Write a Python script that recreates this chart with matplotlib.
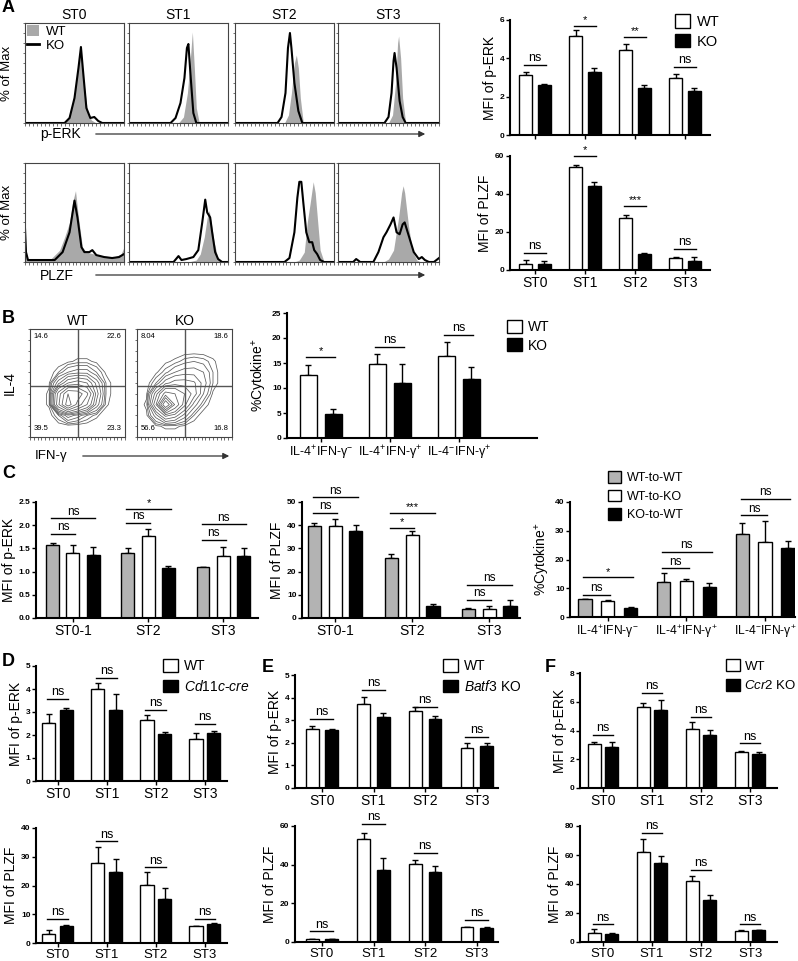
import matplotlib
matplotlib.use('Agg')
import matplotlib.pyplot as plt
import numpy as np
from matplotlib.patches import Patch, FancyArrowPatch
from matplotlib.lines import Line2D

plt.rcParams['font.family'] = ['Liberation Sans', 'DejaVu Sans']
plt.rcParams['mathtext.fontset'] = 'custom'
plt.rcParams['mathtext.rm'] = 'Liberation Sans'
plt.rcParams['mathtext.it'] = 'Liberation Sans:italic'
plt.rcParams['mathtext.bf'] = 'Liberation Sans:bold'

# ---------------- data ----------------
stages = ['ST0', 'ST1', 'ST2', 'ST3']
stages_c = ['ST0-1', 'ST2', 'ST3']
cyto_labels = ['IL-4$^{+}$IFN-γ$^{-}$', 'IL-4$^{+}$IFN-γ$^{+}$', 'IL-4$^{-}$IFN-γ$^{+}$']

# A: flow histograms, (x, y) vertices on a 0-1 scale
erk_wt = [([0, 0.38, 0.44, 0.49, 0.53, 0.56, 0.59, 0.63, 0.67, 0.72, 1],
           [0, 0, 0.04, 0.22, 0.5, 0.74, 0.45, 0.12, 0.03, 0, 0]),
          ([0, 0.5, 0.55, 0.59, 0.62, 0.64, 0.66, 0.68, 0.71, 1],
           [0, 0, 0.06, 0.3, 0.65, 0.91, 0.55, 0.15, 0, 0]),
          ([0, 0.5, 0.54, 0.57, 0.6, 0.62, 0.64, 0.66, 0.69, 1],
           [0, 0, 0.08, 0.3, 0.6, 0.68, 0.55, 0.25, 0, 0]),
          ([0, 0.5, 0.54, 0.57, 0.59, 0.6, 0.62, 0.64, 0.67, 1],
           [0, 0, 0.08, 0.4, 0.8, 0.87, 0.65, 0.25, 0, 0])]
erk_ko = [([0, 0.40, 0.45, 0.50, 0.54, 0.565, 0.59, 0.62, 0.66, 0.70, 0.74, 0.78, 1],
           [0, 0, 0.05, 0.25, 0.55, 0.76, 0.48, 0.15, 0.05, 0.06, 0.02, 0, 0]),
          ([0, 0.42, 0.47, 0.52, 0.56, 0.585, 0.60, 0.62, 0.65, 0.68, 1],
           [0, 0, 0.05, 0.2, 0.45, 0.75, 0.79, 0.5, 0.1, 0, 0]),
          ([0, 0.43, 0.47, 0.51, 0.535, 0.555, 0.57, 0.6, 0.64, 0.68, 1],
           [0, 0, 0.06, 0.3, 0.75, 0.9, 0.75, 0.4, 0.12, 0, 0]),
          ([0, 0.46, 0.5, 0.53, 0.55, 0.56, 0.58, 0.61, 0.64, 0.67, 1],
           [0, 0, 0.06, 0.3, 0.62, 0.70, 0.55, 0.22, 0.06, 0, 0])]
plzf_wt = [([0, 0.01, 0.03, 0.25, 0.3, 0.35, 0.4, 0.45, 0.48, 0.51, 0.54, 0.58, 0.62, 0.7, 0.8, 0.9, 0.97, 1],
            [0.25, 0.1, 0.02, 0.02, 0.07, 0.12, 0.25, 0.4, 0.6, 0.72, 0.45, 0.15, 0.1, 0.08, 0.06, 0.05, 0.08, 0.15]),
           ([0, 0.6, 0.68, 0.72, 0.76, 0.79, 0.81, 0.83, 0.86, 0.9, 0.95, 1],
            [0, 0, 0.02, 0.08, 0.25, 0.45, 0.52, 0.4, 0.2, 0.03, 0, 0]),
           ([0, 0.6, 0.65, 0.7, 0.73, 0.76, 0.79, 0.81, 0.84, 0.86, 0.9, 1],
            [0, 0, 0.02, 0.1, 0.4, 0.6, 0.81, 0.7, 0.35, 0.12, 0, 0]),
           ([0, 0.45, 0.5, 0.55, 0.6, 0.63, 0.645, 0.66, 0.7, 0.74, 0.78, 0.82, 1],
            [0, 0, 0.03, 0.12, 0.45, 0.7, 0.77, 0.7, 0.35, 0.1, 0.02, 0, 0])]
plzf_ko = [([0, 0.01, 0.03, 0.3, 0.38, 0.45, 0.5, 0.53, 0.57, 0.6, 0.65, 0.68, 0.72, 0.8, 0.88, 0.95, 1],
            [0.34, 0.1, 0.02, 0.02, 0.1, 0.3, 0.62, 0.45, 0.15, 0.1, 0.1, 0.12, 0.07, 0.05, 0.04, 0.05, 0.08]),
           ([0, 0.45, 0.5, 0.53, 0.58, 0.65, 0.7, 0.74, 0.77, 0.79, 0.82, 0.84, 0.87, 0.9, 0.94, 1],
            [0, 0, 0.06, 0.02, 0.03, 0.05, 0.12, 0.4, 0.63, 0.5, 0.45, 0.3, 0.1, 0.03, 0, 0]),
           ([0, 0.5, 0.55, 0.6, 0.63, 0.65, 0.67, 0.69, 0.72, 0.75, 0.78, 0.8, 0.83, 0.86, 0.9, 1],
            [0, 0, 0.04, 0.3, 0.65, 0.81, 0.81, 0.6, 0.3, 0.2, 0.2, 0.12, 0.08, 0.02, 0, 0]),
           ([0, 0.15, 0.18, 0.22, 0.35, 0.4, 0.45, 0.48, 0.52, 0.55, 0.58, 0.61, 0.64, 0.66, 0.69, 0.72, 0.75, 0.8, 0.83, 0.86, 0.9, 0.95, 1],
            [0, 0, 0.03, 0, 0, 0.1, 0.25, 0.3, 0.38, 0.45, 0.3, 0.28, 0.38, 0.4, 0.3, 0.2, 0.1, 0.03, 0.05, 0.02, 0, 0, 0.04])]

# A: bar charts
a_erk_wt, a_erk_wt_err = [3.15, 5.15, 4.45, 3.0], [0.15, 0.35, 0.3, 0.2]
a_erk_ko, a_erk_ko_err = [2.6, 3.3, 2.45, 2.3], [0.05, 0.2, 0.15, 0.15]
a_erk_sig_y, a_erk_sig = [3.65, 5.7, 5.1, 3.55], ['ns', '*', '**', 'ns']
a_plzf_wt, a_plzf_wt_err = [3.0, 54.0, 27.5, 6.5], [2.5, 1.5, 1.5, 0.5]
a_plzf_ko, a_plzf_ko_err = [3.0, 44.0, 8.5, 5.0], [2.0, 2.5, 0.3, 2.0]
a_plzf_sig_y, a_plzf_sig = [9, 60, 33.7, 11], ['ns', '*', '***', 'ns']

# B: contour density grids (rows = IL-4, cols = IFN-g, 0-1 scale)
b_wt_density = [
    [0, 0, 0, 0, 0, 0, 0, 0, 0, 0, 0],
    [0, 0, 0, 0, 0, 0, 0, 0, 0, 0, 0],
    [0, 0, 0, 0.05, 0.15, 0.1, 0.05, 0.02, 0, 0, 0],
    [0, 0, 0.02, 0.5, 0.9, 0.6, 0.4, 0.15, 0.02, 0, 0],
    [0, 0, 0.02, 0.45, 0.8, 0.75, 0.55, 0.2, 0.03, 0, 0],
    [0, 0, 0.01, 0.15, 0.3, 0.35, 0.3, 0.15, 0.03, 0, 0],
    [0, 0, 0, 0.03, 0.08, 0.1, 0.1, 0.05, 0.01, 0, 0],
    [0, 0, 0, 0, 0.01, 0.02, 0.02, 0.01, 0, 0, 0],
    [0, 0, 0, 0, 0, 0, 0, 0, 0, 0, 0],
    [0, 0, 0, 0, 0, 0, 0, 0, 0, 0, 0],
    [0, 0, 0, 0, 0, 0, 0, 0, 0, 0, 0]]
b_ko_density = [
    [0, 0, 0, 0, 0, 0, 0, 0, 0, 0, 0],
    [0, 0, 0.01, 0.02, 0.02, 0.01, 0, 0, 0, 0, 0],
    [0, 0.01, 0.1, 0.25, 0.2, 0.1, 0.03, 0, 0, 0, 0],
    [0, 0.02, 0.3, 1.0, 0.5, 0.25, 0.1, 0.03, 0, 0, 0],
    [0, 0.01, 0.2, 0.45, 0.4, 0.3, 0.2, 0.08, 0.01, 0, 0],
    [0, 0, 0.05, 0.15, 0.2, 0.2, 0.18, 0.1, 0.03, 0, 0],
    [0, 0, 0.01, 0.04, 0.08, 0.1, 0.1, 0.08, 0.03, 0, 0],
    [0, 0, 0, 0.01, 0.02, 0.04, 0.05, 0.04, 0.02, 0, 0],
    [0, 0, 0, 0, 0, 0, 0, 0, 0, 0, 0],
    [0, 0, 0, 0, 0, 0, 0, 0, 0, 0, 0],
    [0, 0, 0, 0, 0, 0, 0, 0, 0, 0, 0]]
b_wt_quad = ['14.6', '22.6', '39.5', '23.3']
b_ko_quad = ['8.04', '18.6', '56.6', '16.8']
b_wt, b_wt_err = [12.7, 14.8, 16.4], [1.9, 2.0, 2.8]
b_ko, b_ko_err = [4.8, 11.1, 11.9], [1.1, 3.7, 2.3]
b_sig_y, b_sig = [16.3, 18.3, 20.6], ['*', 'ns', 'ns']

# C: three chimera groups (WT-to-WT, WT-to-KO, KO-to-WT)
c_erk = [[1.57, 1.41, 1.09], [1.40, 1.76, 1.33], [1.36, 1.07, 1.33]]
c_erk_err = [[0.05, 0.10, 0.01], [0.18, 0.16, 0.21], [0.16, 0.05, 0.18]]
c_erk_sig = [(0, 1, 1.82, 'ns'), (0, 2, 2.15, 'ns'), (1, 1, 2.05, 'ns'), (1, 2, 2.35, '*'),
             (2, 1, 1.69, 'ns'), (2, 2, 2.02, 'ns')]
c_plzf = [[39.7, 26.0, 3.9], [39.5, 35.6, 3.9], [37.6, 5.3, 5.3]]
c_plzf_err = [[1.3, 1.4, 0.4], [3.2, 2.1, 1.1], [2.4, 0.7, 2.5]]
c_plzf_sig = [(0, 1, 45.4, 'ns'), (0, 2, 52.0, 'ns'), (1, 1, 39.0, '*'), (1, 2, 45.4, '***'),
              (2, 1, 7.9, 'ns'), (2, 2, 14.3, 'ns')]
c_cyto = [[6.2, 12.3, 28.8], [5.7, 12.4, 26.2], [3.3, 10.5, 24.1]]
c_cyto_err = [[0.2, 2.9, 3.8], [0.3, 0.9, 7.3], [0.3, 1.2, 2.3]]
c_cyto_sig = [(0, 1, 7.7, 'ns'), (0, 2, 13.8, '*'), (1, 1, 16.9, 'ns'), (1, 2, 22.6, 'ns'),
              (2, 1, 35.4, 'ns'), (2, 2, 41.1, 'ns')]

# D: Cd11c-cre
d_erk_wt, d_erk_wt_err = [2.53, 3.99, 2.67, 1.84], [0.40, 0.28, 0.22, 0.26]
d_erk_ko, d_erk_ko_err = [3.07, 3.10, 2.03, 2.10], [0.10, 0.67, 0.10, 0.07]
d_erk_sig_y = [3.56, 4.5, 3.1, 2.5]
d_plzf_wt, d_plzf_wt_err = [3.2, 27.7, 20.2, 5.8], [1.2, 5.7, 4.6, 0.1]
d_plzf_ko, d_plzf_ko_err = [5.8, 24.8, 15.2, 6.7], [0.4, 4.5, 4.0, 0.1]
d_plzf_sig_y = [8.3, 35.4, 26.3, 8.3]

# E: Batf3 KO
e_erk_wt, e_erk_wt_err = [2.6, 3.71, 3.42, 1.78], [0.15, 0.33, 0.15, 0.2]
e_erk_ko, e_erk_ko_err = [2.56, 3.15, 3.05, 1.86], [0.07, 0.18, 0.12, 0.12]
e_erk_sig_y = [3.07, 4.33, 3.6, 2.27]
e_plzf_wt, e_plzf_wt_err = [1.4, 53.1, 40.5, 7.8], [0.2, 3.4, 2.1, 0.2]
e_plzf_ko, e_plzf_ko_err = [1.3, 37.1, 36.2, 7.5], [0.2, 6.3, 3.1, 0.2]
e_plzf_sig_y = [5.5, 61.0, 46.0, 11.5]

# F: Ccr2 KO
f_erk_wt, f_erk_wt_err = [3.06, 5.64, 4.07, 2.53], [0.16, 0.24, 0.49, 0.02]
f_erk_ko, f_erk_ko_err = [2.87, 5.46, 3.68, 2.37], [0.30, 0.69, 0.35, 0.16]
f_erk_sig_y = [3.68, 6.6, 4.95, 3.1]
f_plzf_wt, f_plzf_wt_err = [6.2, 62.0, 41.8, 7.6], [2.5, 8.8, 3.7, 0.9]
f_plzf_ko, f_plzf_ko_err = [5.3, 54.7, 28.7, 8.0], [1.1, 4.3, 3.9, 0.5]
f_plzf_sig_y = [12.2, 75.2, 49.9, 12.2]

# ---------------- layout helpers ----------------
W, H = 798, 961
fig = plt.figure(figsize=(W / 100, H / 100), dpi=100)
GRAY = '#b3b3b3'


def pax(x0, y0, x1, y1):
    return fig.add_axes([x0 / W, 1 - y1 / H, (x1 - x0) / W, (y1 - y0) / H])


def ftext(x, y, s, **kw):
    fig.text(x / W, 1 - y / H, s, **kw)


def farrow(x0, x1, y):
    fig.add_artist(FancyArrowPatch((x0 / W, 1 - y / H), (x1 / W, 1 - y / H),
                                   transform=fig.transFigure, arrowstyle='-|>',
                                   mutation_scale=9, lw=0.9, color='#333333'))


def box_legend(x, y, labels, colors, fs=10, spacing=0.45, textpad=0.45):
    handles = [Patch(facecolor=c, edgecolor='black', linewidth=1) for c in colors]
    fig.legend(handles, labels, loc='upper left', bbox_to_anchor=(x / W, 1 - y / H),
               frameon=False, fontsize=fs, handlelength=1.05, handleheight=1.05,
               handletextpad=textpad, labelspacing=spacing, borderaxespad=0, borderpad=0)


def style_bar(ax, xlim, ylim, yticks, xlabels=None, ylabel='', yfmt=None, xfs=10):
    for s in ['top', 'right']:
        ax.spines[s].set_visible(False)
    for s in ['left', 'bottom']:
        ax.spines[s].set_linewidth(1.5)
    ax.set_xlim(*xlim)
    ax.set_ylim(*ylim)
    ax.set_yticks(yticks)
    if yfmt:
        ax.set_yticklabels([yfmt.format(t) for t in yticks])
    ax.tick_params(axis='y', labelsize=6, length=3, width=1, pad=1)
    for t in ax.get_yticklabels():
        t.set_fontweight('bold')
    n = len(xlabels) if xlabels else 4
    ax.set_xticks(np.arange(n))
    if xlabels:
        ax.set_xticklabels(xlabels)
    else:
        ax.set_xticklabels([])
    ax.tick_params(axis='x', labelsize=xfs, length=3, width=1, pad=1.5)
    ax.set_ylabel(ylabel, fontsize=10, labelpad=2)


def draw_bars(ax, series, errs, colors, offsets, width):
    for vals, err, col, off in zip(series, errs, colors, offsets):
        x = np.arange(len(vals)) + off
        ax.bar(x, vals, width, color=col, edgecolor='black', linewidth=1, zorder=2)
        ax.errorbar(x, vals, yerr=[np.zeros(len(vals)), err], fmt='none', ecolor='black',
                    elinewidth=1, capsize=2.5, capthick=1, zorder=1)


def sig(ax, x0, x1, y, txt, fs_ns=9):
    ax.plot([x0, x1], [y, y], color='black', lw=1, clip_on=False, zorder=3)
    fs = fs_ns if txt == 'ns' else 8
    ax.annotate(txt, xy=((x0 + x1) / 2, y), xytext=(0, 0.5), textcoords='offset points',
                ha='center', va='bottom', fontsize=fs, annotation_clip=False)


def two_bar_panel(box, wt, wt_err, ko, ko_err, sig_y, sig_txt, xlim, ylim, yticks, ylabel,
                  off=0.185, width=0.26, labels=stages, xfs=10):
    ax = pax(*box)
    draw_bars(ax, [wt, ko], [wt_err, ko_err], ['white', 'black'], [-off, off], width)
    style_bar(ax, xlim, ylim, yticks, labels, ylabel, xfs=xfs)
    for g, (y, t) in enumerate(zip(sig_y, sig_txt)):
        sig(ax, g - off - 0.03, g + off + 0.03, y, t)
    return ax


def three_bar_panel(box, series, errs, sigs, xlim, ylim, yticks, ylabel, labels, off,
                    yfmt=None, xfs=10):
    ax = pax(*box)
    offsets = [-off, 0, off]
    draw_bars(ax, series, errs, [GRAY, 'white', 'black'], offsets, 0.17)
    style_bar(ax, xlim, ylim, yticks, labels, ylabel, yfmt, xfs=xfs)
    for g, partner, y, t in sigs:
        sig(ax, g - off - 0.02, g + offsets[partner] + 0.03, y, t, fs_ns=8.5)
    return ax


# ---------------- panel A: histograms ----------------
cols = [(25, 124), (129, 228), (235, 334), (338, 439)]
rows = [(23, 123), (163, 262)]
for r, (wt_list, ko_list) in enumerate([(erk_wt, erk_ko), (plzf_wt, plzf_ko)]):
    for c, (x0, x1) in enumerate(cols):
        ax = pax(x0, rows[r][0], x1, rows[r][1])
        wx, wy = wt_list[c]
        kx, ky = ko_list[c]
        ax.fill_between(wx, wy, color='#a9a9a9', lw=0)
        ax.plot(kx, ky, color='black', lw=1.5)
        ax.set_xlim(0, 1)
        ax.set_ylim(0, 1)
        ax.set_xticks(np.arange(0, 1.01, 0.04))
        ax.set_yticks(np.arange(0, 1.01, 0.1))
        ax.set_xticklabels([])
        ax.set_yticklabels([])
        ax.tick_params(length=1.8, width=0.6, color='#555555')
        for s in ax.spines.values():
            s.set_linewidth(0.8)
            s.set_color('#444444')
        if r == 0:
            ax.set_title(stages[c], fontsize=10, pad=3)
        if c == 0:
            ax.set_ylabel('% of Max', fontsize=9.5, labelpad=3)
        if r == 0 and c == 0:
            ax.legend([Patch(facecolor='#a9a9a9'), Line2D([], [], color='black', lw=2)],
                      ['WT', 'KO'], loc='upper left', frameon=False, fontsize=9.5,
                      handlelength=0.9, handleheight=0.9, borderaxespad=0.05,
                      borderpad=0.1, labelspacing=0.05, handletextpad=0.5)

ftext(40, 134, 'p-ERK', fontsize=10, va='center')
farrow(93, 428, 134)
ftext(40, 276, 'PLZF', fontsize=10, va='center')
farrow(93, 428, 275)

# A: bars
two_bar_panel((510, 20, 710, 135), a_erk_wt, a_erk_wt_err, a_erk_ko, a_erk_ko_err,
              a_erk_sig_y, a_erk_sig, (-0.5, 3.5), (0, 6), [0, 2, 4, 6], 'MFI of p-ERK',
              labels=None)
two_bar_panel((510, 156, 710, 270), a_plzf_wt, a_plzf_wt_err, a_plzf_ko, a_plzf_ko_err,
              a_plzf_sig_y, a_plzf_sig, (-0.5, 3.5), (0, 60), [0, 20, 40, 60], 'MFI of PLZF')
box_legend(675, 14, ['WT', 'KO'], ['white', 'black'], fs=10.5, spacing=0.35)

# ---------------- panel B ----------------
grid = np.linspace(0, 1, 11)
levels = [0.015, 0.03, 0.05, 0.08, 0.12, 0.17, 0.23, 0.3, 0.4, 0.52, 0.65, 0.8]
for box, dens, quad, title in [((30, 329, 125, 437), b_wt_density, b_wt_quad, 'WT'),
                               ((137, 329, 232, 437), b_ko_density, b_ko_quad, 'KO')]:
    ax = pax(*box)
    ax.contour(grid, grid, np.array(dens), levels=levels, colors='#5a5a5a', linewidths=0.55)
    ax.axvline(0.5, color='#555555', lw=1)
    ax.axhline(0.475, color='#555555', lw=1)
    ax.set_xlim(0, 1)
    ax.set_ylim(0, 1)
    ax.set_xticks(np.arange(0, 1.01, 0.04))
    ax.set_yticks(np.arange(0, 1.01, 0.1))
    ax.set_xticklabels([])
    ax.set_yticklabels([])
    ax.tick_params(length=1.8, width=0.6, color='#555555')
    for s in ax.spines.values():
        s.set_linewidth(0.8)
        s.set_color('#444444')
    ax.set_title(title, fontsize=10, pad=3)
    ax.text(0.04, 0.93, quad[0], fontsize=5.5, transform=ax.transAxes, va='center')
    ax.text(0.96, 0.93, quad[1], fontsize=5.5, transform=ax.transAxes, va='center', ha='right')
    ax.text(0.04, 0.08, quad[2], fontsize=5.5, transform=ax.transAxes, va='center')
    ax.text(0.96, 0.08, quad[3], fontsize=5.5, transform=ax.transAxes, va='center', ha='right')
    if title == 'WT':
        ax.set_ylabel('IL-4', fontsize=10, labelpad=4)

ftext(35, 456, 'IFN-γ', fontsize=9.5, va='center')
farrow(80, 232, 456)

two_bar_panel((287, 313, 537, 438), b_wt, b_wt_err, b_ko, b_ko_err, b_sig_y, b_sig,
              (-0.49, 3.13), (0, 25), [0, 5, 10, 15, 20, 25], '%Cytokine$^{+}$',
              off=0.18, width=0.25, labels=cyto_labels, xfs=9)
box_legend(507, 320, ['WT', 'KO'], ['white', 'black'], fs=10, spacing=0.3)

# ---------------- panel C ----------------
three_bar_panel((36, 502, 258, 618), c_erk, c_erk_err, c_erk_sig, (-0.49, 2.46), (0, 2.5),
                [0, 0.5, 1.0, 1.5, 2.0, 2.5], 'MFI of p-ERK', stages_c, 0.27, '{:.1f}')
three_bar_panel((302, 502, 520, 618), c_plzf, c_plzf_err, c_plzf_sig, (-0.43, 2.4), (0, 50),
                [0, 10, 20, 30, 40, 50], 'MFI of PLZF', stages_c, 0.27)
three_bar_panel((570, 502, 795, 617), c_cyto, c_cyto_err, c_cyto_sig, (-0.48, 2.38), (0, 40),
                [0, 10, 20, 30, 40], '%Cytokine$^{+}$', cyto_labels, 0.29, xfs=8.7)
box_legend(608, 471, ['WT-to-WT', 'WT-to-KO', 'KO-to-WT'], [GRAY, 'white', 'black'],
           fs=9, spacing=0.45)

# ---------------- panels D, E, F ----------------
two_bar_panel((36, 666, 227, 781), d_erk_wt, d_erk_wt_err, d_erk_ko, d_erk_ko_err,
              d_erk_sig_y, ['ns'] * 4, (-0.44, 3.45), (0, 5), [0, 1, 2, 3, 4, 5], 'MFI of p-ERK',
              off=0.18, width=0.27)
two_bar_panel((36, 828, 227, 943), d_plzf_wt, d_plzf_wt_err, d_plzf_ko, d_plzf_ko_err,
              d_plzf_sig_y, ['ns'] * 4, (-0.44, 3.45), (0, 40), [0, 10, 20, 30, 40], 'MFI of PLZF',
              off=0.18, width=0.27, xfs=9.5)
box_legend(163, 659, ['WT', r'$\it{Cd11c}$-$\it{cre}$'], ['white', 'black'], fs=10, spacing=0.4)

two_bar_panel((295, 675, 498, 788), e_erk_wt, e_erk_wt_err, e_erk_ko, e_erk_ko_err,
              e_erk_sig_y, ['ns'] * 4, (-0.52, 3.41), (0, 5), [0, 1, 2, 3, 4, 5], 'MFI of p-ERK',
              off=0.19, width=0.25)
two_bar_panel((295, 826, 498, 942), e_plzf_wt, e_plzf_wt_err, e_plzf_ko, e_plzf_ko_err,
              e_plzf_sig_y, ['ns'] * 4, (-0.52, 3.41), (0, 60), [0, 20, 40, 60], 'MFI of PLZF',
              off=0.19, width=0.25, xfs=9.5)
box_legend(443, 659, ['WT', r'$\it{Batf3}$ KO'], ['white', 'black'], fs=10, spacing=0.4)

two_bar_panel((580, 673, 777, 788), f_erk_wt, f_erk_wt_err, f_erk_ko, f_erk_ko_err,
              f_erk_sig_y, ['ns'] * 4, (-0.47, 3.55), (0, 8), [0, 2, 4, 6, 8], 'MFI of p-ERK',
              off=0.18, width=0.27)
two_bar_panel((580, 826, 777, 942), f_plzf_wt, f_plzf_wt_err, f_plzf_ko, f_plzf_ko_err,
              f_plzf_sig_y, ['ns'] * 4, (-0.47, 3.55), (0, 80), [0, 20, 40, 60, 80], 'MFI of PLZF',
              off=0.18, width=0.27, xfs=9.5)
box_legend(726, 659, ['WT', r'$\it{Ccr2}$ KO'], ['white', 'black'], fs=9.5, spacing=0.45,
           textpad=0.35)

# panel letters
for letter, x, y in [('A', 2, 8), ('B', 2, 318), ('C', 2, 474), ('D', 2, 662),
                     ('E', 262, 668), ('F', 545, 668)]:
    ftext(x, y, letter, fontsize=13, fontweight='bold', va='center')

fig.savefig('out.png', dpi=100)
